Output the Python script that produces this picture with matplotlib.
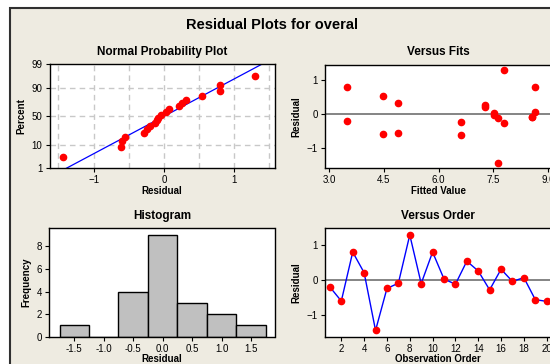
import numpy as np
import matplotlib
matplotlib.use("Agg")
import matplotlib.pyplot as plt
from matplotlib.patches import Rectangle
from statistics import NormalDist

plt.rcParams['font.family'] = ['Liberation Sans', 'DejaVu Sans']

# ---- data ----
residuals = [-0.20, -0.60, 0.80, 0.21, -1.44, -0.24, -0.09, 1.29, -0.10, 0.80,
             0.03, -0.12, 0.54, 0.26, -0.28, 0.31, -0.04, 0.07, -0.56, -0.61]
fitted = [3.49, 4.49, 3.49, 7.28, 7.63, 6.61, 8.57, 7.79, 8.57, 8.65,
          7.53, 7.63, 4.49, 7.28, 7.79, 4.90, 7.53, 8.65, 4.90, 6.61]
order = list(range(1, 21))
hist_edges = [-1.75, -1.25, -0.75, -0.25, 0.25, 0.75, 1.25, 1.75]
prob_ticks = [1, 10, 50, 90, 99]

bg = '#eeebe1'
W, H = 550.0, 364.0

def box(l, t, r, b):
    return [l / W, 1 - b / H, (r - l) / W, (b - t) / H]

fig = plt.figure(figsize=(5.5, 3.64), dpi=100)
fig.patch.set_facecolor('white')
frame = Rectangle((10 / W, -0.1), 1.2, 1 - 7.5 / H + 0.1,
                  transform=fig.transFigure, facecolor=bg,
                  edgecolor='#303030', lw=1.5, zorder=-5)
fig.patches.append(frame)

fig.text(272.5 / W, 1 - 25 / H, 'Residual Plots for overal', ha='center',
         va='center', fontsize=10.5, fontweight='bold')

def style(ax, title):
    ax.set_facecolor('white')
    for s in ax.spines.values():
        s.set_color('black')
        s.set_linewidth(1.0)
    ax.tick_params(direction='out', length=3, width=0.8, labelsize=7, pad=2)
    ax.set_title(title, fontsize=8.5, fontweight='bold', pad=7)

nd = NormalDist()

# ---- Normal probability plot ----
ax1 = fig.add_axes(box(49.5, 64.3, 274.5, 168.3))
style(ax1, 'Normal Probability Plot')
n = len(residuals)
srt = np.sort(residuals)
zpos = [nd.inv_cdf((i - 0.3) / (n + 0.4)) for i in range(1, n + 1)]
zlim = nd.inv_cdf(0.99)
mu = np.mean(residuals)
sd = np.std(residuals, ddof=1)
for gx in [-1.5, -1.0, -0.5, 0.0, 0.5, 1.0, 1.5]:
    ax1.axvline(gx, color='#c8c8c8', lw=1, ls=(0, (4, 3)), zorder=1)
for p in [10, 50, 90]:
    ax1.axhline(nd.inv_cdf(p / 100), color='#c8c8c8', lw=1, ls=(0, (4, 3)), zorder=1)
zz = np.array([-zlim, zlim])
ax1.plot(mu + sd * zz, zz, color='blue', lw=0.9, zorder=2)
ax1.plot(srt, zpos, 'o', color='red', ms=4.5, mec='red', zorder=3)
ax1.set_xlim(-1.627, 1.574)
ax1.set_ylim(-zlim, zlim)
ax1.set_yticks([nd.inv_cdf(p / 100) for p in prob_ticks])
ax1.set_yticklabels([str(p) for p in prob_ticks])
ax1.set_xticks([-1, 0, 1])
ax1.set_xlabel('Residual', fontsize=7, fontweight='bold', labelpad=0.5)
ax1.set_ylabel('Percent', fontsize=7, fontweight='bold', labelpad=4)

# ---- Versus Fits ----
ax2 = fig.add_axes(box(325, 65, 552, 168.3))
style(ax2, 'Versus Fits')
ax2.axhline(0, color='#707070', lw=1.2, zorder=1)
ax2.plot(fitted, residuals, 'o', color='red', ms=4.5, mec='red', zorder=3)
ax2.set_xlim(2.89, 9.11)
ax2.set_ylim(-1.61, 1.45)
ax2.set_xticks([3.0, 4.5, 6.0, 7.5, 9.0])
ax2.set_xticklabels(['3.0', '4.5', '6.0', '7.5', '9.0'])
ax2.set_yticks([-1, 0, 1])
ax2.set_xlabel('Fitted Value', fontsize=7, fontweight='bold', labelpad=0.5)
ax2.set_ylabel('Residual', fontsize=7, fontweight='bold', labelpad=4)

# ---- Histogram ----
ax3 = fig.add_axes(box(49.3, 228.3, 274.5, 336.7))
style(ax3, 'Histogram')
ax3.hist(residuals, bins=hist_edges, color='#c0c0c0', edgecolor='black', lw=1.0)
ax3.set_xlim(-1.925, 1.90)
ax3.set_ylim(0, 9.6)
ax3.set_yticks([0, 2, 4, 6, 8])
ax3.set_xticks([-1.5, -1.0, -0.5, 0.0, 0.5, 1.0, 1.5])
ax3.set_xticklabels(['-1.5', '-1.0', '-0.5', '0.0', '0.5', '1.0', '1.5'])
ax3.set_xlabel('Residual', fontsize=7, fontweight='bold', labelpad=0)
ax3.set_ylabel('Frequency', fontsize=7, fontweight='bold', labelpad=4)

# ---- Versus Order ----
ax4 = fig.add_axes(box(325, 228.3, 551.6, 336.7))
style(ax4, 'Versus Order')
ax4.axhline(0, color='#707070', lw=1.2, zorder=1)
ax4.plot(order, residuals, '-', color='blue', lw=1.0, zorder=2)
ax4.plot(order, residuals, 'o', color='red', ms=4.5, mec='red', zorder=3)
ax4.set_xlim(0.57, 20.43)
ax4.set_ylim(-1.62, 1.48)
ax4.set_xticks(list(range(2, 21, 2)))
ax4.set_yticks([-1, 0, 1])
ax4.set_xlabel('Observation Order', fontsize=7, fontweight='bold', labelpad=0)
ax4.set_ylabel('Residual', fontsize=7, fontweight='bold', labelpad=4)

fig.savefig('out.png', dpi=100, facecolor=fig.get_facecolor())
